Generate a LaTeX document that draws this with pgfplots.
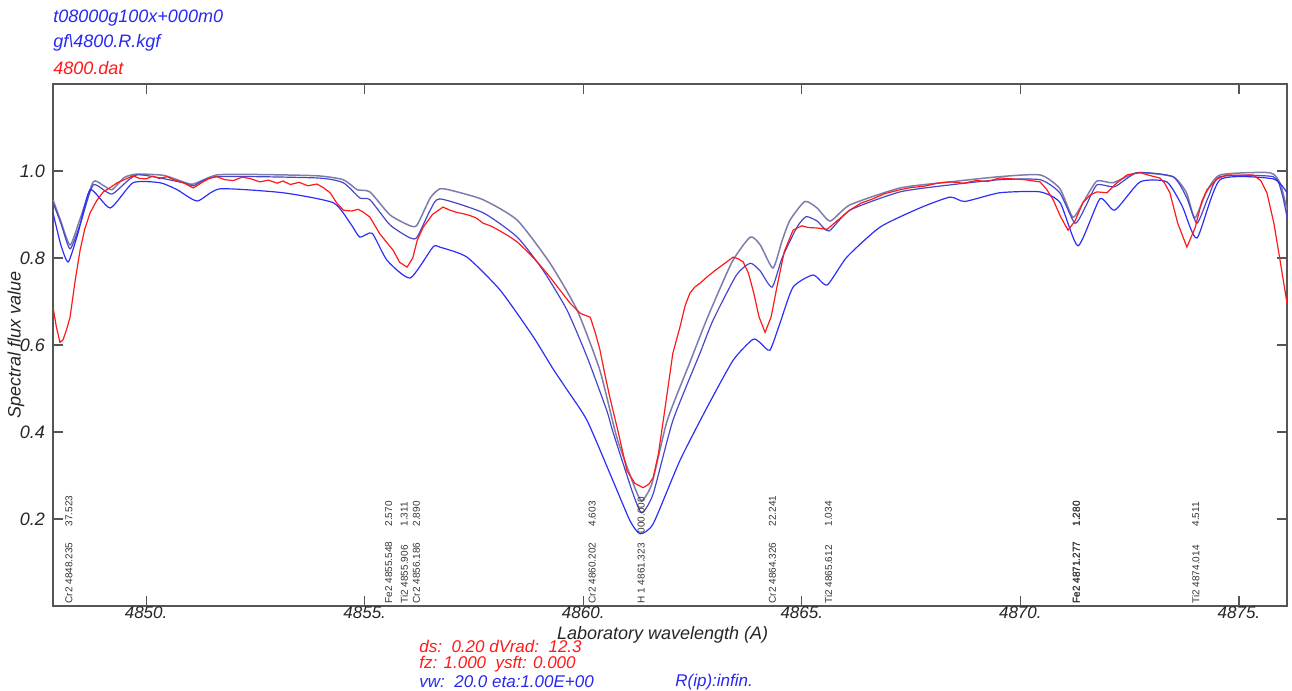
\documentclass[border=0pt]{standalone}
\usepackage{fontspec}
\setmainfont{Liberation Sans}
\usepackage{pgfplots}
\pgfplotsset{compat=1.18}
\definecolor{framegray}{RGB}{85,85,85}
\definecolor{obsred}{RGB}{255,25,25}
\definecolor{modslate}{RGB}{125,125,172}
\definecolor{modmid}{RGB}{70,70,205}
\definecolor{modblue}{RGB}{45,45,250}
\definecolor{txtblue}{RGB}{40,40,240}

\newcommand{\linelab}[4]{%
  \node[rotate=90, anchor=west, inner sep=0pt, font=\fontsize{5}{6}\selectfont, text=black!80]
    at (axis cs:#1,0.005) {#2};
  \node[rotate=90, anchor=west, inner sep=0pt, font=\fontsize{5}{6}\selectfont, text=black!80]
    at (axis cs:#1,#4) {#3};}

\begin{document}
\begin{tikzpicture}
\useasboundingbox (-26.5pt,-42.5pt) rectangle (619.5pt,303pt);
\begin{axis}[
    at={(0pt,0pt)}, anchor=south west,
    scale only axis,
    width=617pt, height=261pt,
    xmin=4847.87, xmax=4876.10,
    ymin=0, ymax=1.2,
    axis line style={draw=framegray, line width=1pt},
    tick style={draw=framegray, line width=0.6pt},
    major tick length=5pt,
    tick align=inside,
    tick pos=both,
    xtick={4850,4855,4860,4865,4870,4875},
    xticklabels={4850.,4855.,4860.,4865.,4870.,4875.},
    ytick={0.2,0.4,0.6,0.8,1.0},
    yticklabel style={/pgf/number format/fixed, /pgf/number format/fixed zerofill,
      /pgf/number format/precision=1, font=\fontsize{9}{10}\selectfont\itshape, xshift=-0.5pt},
    /pgf/number format/assume math mode=true,
    ticklabel style={text=black!85},
    xticklabel style={font=\fontsize{8.5}{9}\selectfont\itshape, yshift=0.8pt, inner ysep=1pt},
    xlabel={Laboratory wavelength (A)},
    ylabel={Spectral flux value},
    label style={font=\fontsize{9}{10}\selectfont\itshape, text=black!85},
    xlabel style={at={(axis description cs:0.494,-0.055)}, anchor=center, inner sep=0pt},
    ylabel style={at={(axis description cs:-0.030,0.50)}, anchor=center},
]

% model: upper (slate)
\addplot[modslate, line width=0.75pt, smooth, tension=0.35] coordinates {
(4847.87,0.934) (4848.03,0.89) (4848.26,0.830) (4848.49,0.89) (4848.79,0.975)
(4849.00,0.968) (4849.22,0.957) (4849.50,0.985) (4849.79,0.993) (4850.40,0.990)
(4850.85,0.975) (4851.08,0.970) (4851.62,0.991) (4852.50,0.992) (4853.91,0.989)
(4854.51,0.980) (4854.83,0.957) (4855.12,0.952) (4855.58,0.899) (4856.04,0.874)
(4856.20,0.876) (4856.50,0.938) (4856.72,0.959) (4857.00,0.955) (4857.71,0.934)
(4858.49,0.887) (4859.24,0.788) (4859.86,0.680) (4860.38,0.542) (4860.77,0.387)
(4861.18,0.272) (4861.34,0.242) (4861.57,0.281) (4861.92,0.426) (4862.44,0.560)
(4862.83,0.660) (4863.40,0.790) (4863.82,0.848) (4864.05,0.830) (4864.34,0.777)
(4864.55,0.840) (4864.73,0.887) (4865.07,0.930) (4865.35,0.915) (4865.65,0.885)
(4866.10,0.922) (4867.25,0.961) (4868.39,0.975) (4869.53,0.987) (4870.45,0.991)
(4870.90,0.960) (4871.20,0.894) (4871.45,0.930) (4871.75,0.977) (4872.12,0.973)
(4872.67,0.996) (4873.49,0.987) (4873.80,0.950) (4873.99,0.892) (4874.25,0.950)
(4874.57,0.991) (4875.71,0.996) (4875.95,0.970) (4876.10,0.910)
};

% model: middle
\addplot[modmid, line width=0.6pt, smooth, tension=0.35] coordinates {
(4847.87,0.927) (4848.05,0.88) (4848.26,0.821) (4848.50,0.88) (4848.79,0.968)
(4849.22,0.947) (4849.79,0.991) (4850.85,0.973) (4851.08,0.966) (4851.62,0.987)
(4853.91,0.984) (4854.51,0.973) (4854.89,0.938) (4855.12,0.934) (4855.58,0.876)
(4856.04,0.846) (4856.20,0.848) (4856.50,0.910) (4856.72,0.936) (4857.71,0.904)
(4858.49,0.848) (4859.08,0.772) (4859.63,0.680) (4860.09,0.572) (4860.54,0.449)
(4860.68,0.400) (4861.14,0.258) (4861.34,0.214) (4861.60,0.258) (4862.05,0.426)
(4862.67,0.581) (4862.97,0.657) (4863.50,0.760) (4863.82,0.788) (4864.05,0.770)
(4864.32,0.733) (4864.55,0.800) (4864.89,0.871) (4865.10,0.895) (4865.35,0.885)
(4865.62,0.862) (4866.10,0.910) (4867.25,0.952) (4868.39,0.968) (4869.53,0.980)
(4870.45,0.980) (4870.90,0.950) (4871.25,0.880) (4871.50,0.920) (4871.75,0.968)
(4872.16,0.964) (4872.67,0.996) (4873.49,0.987) (4873.80,0.940) (4874.04,0.880)
(4874.30,0.940) (4874.57,0.987) (4875.78,0.987) (4875.98,0.950) (4876.10,0.894)
};

% model: lower (broad)
\addplot[modblue, line width=0.6pt, smooth, tension=0.35] coordinates {
(4847.87,0.904) (4848.05,0.830) (4848.22,0.791) (4848.45,0.860) (4848.72,0.957)
(4849.18,0.915) (4849.70,0.973) (4850.32,0.973) (4850.71,0.957) (4851.17,0.931)
(4851.69,0.959) (4853.13,0.950) (4854.28,0.927) (4854.67,0.880) (4854.89,0.848)
(4855.17,0.857) (4855.51,0.795) (4856.04,0.754) (4856.56,0.825) (4856.72,0.825)
(4857.34,0.802) (4858.10,0.726) (4858.85,0.620) (4859.31,0.545) (4859.63,0.497)
(4860.09,0.426) (4860.68,0.288) (4861.07,0.196) (4861.30,0.166) (4861.60,0.189)
(4862.21,0.334) (4862.83,0.456) (4863.43,0.565) (4863.88,0.613) (4864.05,0.605)
(4864.27,0.588) (4864.50,0.650) (4864.80,0.733) (4865.26,0.761) (4865.58,0.738)
(4866.03,0.802) (4866.79,0.871) (4867.70,0.915) (4868.39,0.940) (4868.73,0.930)
(4869.53,0.950) (4870.45,0.952) (4870.91,0.927) (4871.32,0.828) (4871.82,0.936)
(4872.16,0.910) (4872.74,0.975) (4873.35,0.975) (4873.70,0.920) (4874.04,0.846)
(4874.57,0.980) (4875.78,0.982) (4876.10,0.950)
};

% observed spectrum
\addplot[obsred, line width=0.6pt] coordinates {
(4847.87,0.687) (4847.95,0.640) (4848.03,0.606) (4848.10,0.612) (4848.18,0.635)
(4848.26,0.664) (4848.38,0.750) (4848.49,0.818) (4848.60,0.868) (4848.72,0.904)
(4848.87,0.932) (4849.02,0.952) (4849.18,0.962) (4849.34,0.973) (4849.50,0.980)
(4849.70,0.989) (4849.85,0.983) (4850.00,0.982) (4850.15,0.988) (4850.30,0.983)
(4850.48,0.987) (4850.65,0.979) (4850.85,0.973) (4851.08,0.961) (4851.30,0.975)
(4851.45,0.983) (4851.62,0.987) (4851.80,0.980) (4852.00,0.978) (4852.20,0.986)
(4852.40,0.982) (4852.60,0.975) (4852.80,0.979) (4853.00,0.972) (4853.13,0.977)
(4853.30,0.969) (4853.50,0.974) (4853.70,0.966) (4853.91,0.970) (4854.05,0.962)
(4854.21,0.950) (4854.35,0.928) (4854.51,0.910) (4854.70,0.908) (4854.85,0.912)
(4854.96,0.906) (4855.12,0.894) (4855.35,0.855) (4855.65,0.818) (4855.80,0.790)
(4855.97,0.779) (4856.10,0.800) (4856.20,0.840) (4856.34,0.871) (4856.55,0.900)
(4856.79,0.917) (4856.95,0.910) (4857.10,0.905) (4857.25,0.902) (4857.40,0.898)
(4857.55,0.892) (4857.71,0.880) (4857.90,0.873) (4858.10,0.862) (4858.30,0.850)
(4858.49,0.837) (4858.75,0.812) (4859.00,0.785) (4859.24,0.756) (4859.50,0.722)
(4859.70,0.696) (4859.93,0.673) (4860.05,0.668) (4860.16,0.664) (4860.27,0.630)
(4860.38,0.590) (4860.50,0.530) (4860.61,0.479) (4860.80,0.400) (4861.00,0.311)
(4861.18,0.282) (4861.37,0.272) (4861.50,0.280) (4861.60,0.295) (4861.72,0.350)
(4861.83,0.426) (4861.95,0.510) (4862.05,0.581) (4862.21,0.640) (4862.33,0.690)
(4862.44,0.719) (4862.55,0.733) (4862.67,0.742) (4862.85,0.758) (4863.00,0.770)
(4863.20,0.785) (4863.43,0.802) (4863.55,0.798) (4863.66,0.791) (4863.78,0.765)
(4863.90,0.720) (4864.02,0.665) (4864.16,0.629) (4864.30,0.665) (4864.43,0.733)
(4864.60,0.815) (4864.80,0.864) (4865.00,0.874) (4865.15,0.870) (4865.35,0.869)
(4865.58,0.866) (4865.80,0.885) (4866.10,0.910) (4866.35,0.926) (4866.60,0.935)
(4866.90,0.948) (4867.25,0.957) (4867.50,0.962) (4867.80,0.965) (4868.10,0.972)
(4868.39,0.975) (4868.70,0.972) (4869.00,0.978) (4869.25,0.976) (4869.53,0.984)
(4869.80,0.982) (4870.10,0.980) (4870.45,0.975) (4870.60,0.958) (4870.75,0.934)
(4870.92,0.895) (4871.09,0.864) (4871.25,0.885) (4871.43,0.927) (4871.60,0.945)
(4871.75,0.952) (4871.98,0.950) (4872.20,0.972) (4872.44,0.991) (4872.60,0.994)
(4872.74,0.996) (4872.95,0.990) (4873.19,0.984) (4873.30,0.972) (4873.42,0.950)
(4873.60,0.880) (4873.81,0.825) (4874.00,0.870) (4874.15,0.930) (4874.27,0.957)
(4874.50,0.982) (4874.73,0.991) (4875.00,0.990) (4875.32,0.991) (4875.50,0.978)
(4875.64,0.950) (4875.80,0.880) (4875.94,0.795) (4876.10,0.696)
};

% line identifications
\linelab{4848.235}{Cr2 4848.235}{37.523}{0.182}
\linelab{4855.548}{Fe2 4855.548}{2.570}{0.182}
\linelab{4855.906}{Ti2 4855.906}{1.311}{0.182}
\linelab{4856.186}{Cr2 4856.186}{2.890}{0.182}
\linelab{4860.202}{Cr2 4860.202}{4.603}{0.182}
\linelab{4861.323}{H 1 4861.323}{000.000}{0.166}
\linelab{4864.326}{Cr2 4864.326}{22.241}{0.182}
\linelab{4865.612}{Ti2 4865.612}{1.034}{0.182}
\linelab{4871.277}{Fe2 4871.277}{1.280}{0.182}
\linelab{4871.287}{Fe2 4871.277}{1.280}{0.182}
\linelab{4874.014}{Ti2 4874.014}{4.511}{0.182}
\end{axis}

\begin{scope}[x=0.5pt, y=-0.5pt, shift={(-26.5pt,303pt)}]
  \tikzset{info/.style={anchor=west, inner sep=0pt, font=\fontsize{9}{10}\selectfont\itshape},
           foot/.style={anchor=west, inner sep=0pt, font=\fontsize{8.5}{9}\selectfont\itshape}}
  \node[info, text=txtblue] at (53,18) {t08000g100x+000m0};
  \node[info, text=txtblue] at (53,43) {gf\textbackslash 4800.R.kgf};
  \node[info, text=obsred] at (53,68) {4800.dat};
  \node[foot, text=obsred] at (419,646) {ds:\ \ 0.20 dVrad:\ \ 12.3};
  \node[foot, text=obsred] at (419,664) {fz: 1.000\ \ ysft: 0.000};
  \node[foot, text=txtblue] at (419,682) {vw:\ \ 20.0 eta:1.00E+00};
  \node[foot, text=txtblue] at (675,682) {R(ip):infin.};
\end{scope}
\end{tikzpicture}
\end{document}
